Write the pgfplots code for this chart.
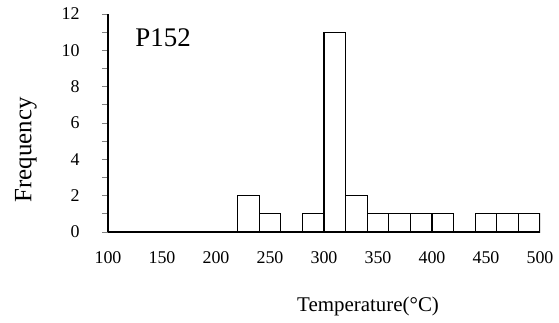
\documentclass[border=0pt]{standalone}
\usepackage{pgfplots}
\pgfplotsset{compat=1.18}
\usepackage{fontspec}
\setmainfont{Liberation Serif}
\begin{document}
\begin{tikzpicture}
\useasboundingbox (-108bp,-91bp) rectangle (451bp,232bp);
\begin{axis}[
  at={(0,0)}, anchor=south west,
  scale only axis, width=432bp, height=218bp,
  xmin=100, xmax=500, ymin=0, ymax=12,
  axis x line=bottom, axis y line=left,
  axis line style={-, line width=1.2pt},
  xtick={100,150,...,500},
  ytick={0,2,...,12},
  minor ytick={1,3,...,11},
  tick align=outside,
  xtick style={draw=none},
  ytick style={line width=0.8pt},
  major tick length=6bp, minor tick length=6bp,
  /pgf/number format/assume math mode=true,
  tick label style={font=\fontsize{18}{21}\selectfont},
  yticklabel style={xshift=-19bp},
  xticklabel style={yshift=-10bp},
  xlabel={Temperature(°C)},
  ylabel={Frequency},
  xlabel style={font=\fontsize{21}{24}\selectfont, at={(axis description cs:0.602,-0.34)}, anchor=center},
  ylabel style={font=\fontsize{25}{28}\selectfont, at={(axis description cs:-0.19,0.376)}, anchor=center},
]
\addplot[ybar interval, draw=black, fill=white, line width=1.3pt] coordinates {
(100,0) (120,0) (140,0) (160,0) (180,0) (200,0)
(220,2) (240,1) (260,0) (280,1) (300,11) (320,2)
(340,1) (360,1) (380,1) (400,1) (420,0) (440,1)
(460,1) (480,1) (500,1)
};
\node[font=\fontsize{27}{30}\selectfont] at (axis cs:151,10.7) {P152};
\end{axis}
\end{tikzpicture}
\end{document}
